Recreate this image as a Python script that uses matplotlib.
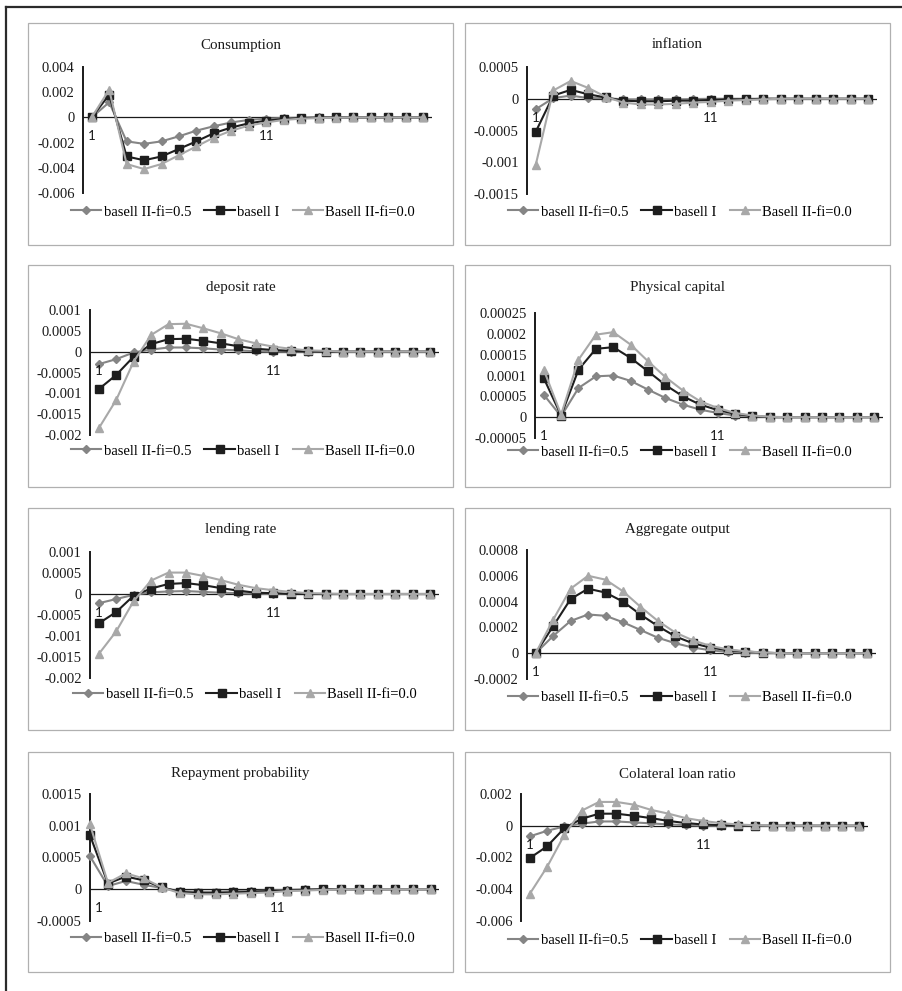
import matplotlib
matplotlib.use("Agg")
import matplotlib.pyplot as plt
from matplotlib.patches import Rectangle
from matplotlib.lines import Line2D

# ---------------- data ----------------
periods = list(range(1, 21))
series_names = ["basell II-fi=0.5", "basell I", "Basell II-fi=0.0"]
xtick_labels = ["1", "11"]

consumption_fi05 = [0, 0.0012, -0.0019, -0.0021, -0.0019, -0.0015, -0.00105, -0.0007, -0.0004, -0.0002,
                    -0.0001, -0.00005, -0.00002, 0, 0, 0, 0, 0, 0, 0]
consumption_b1 = [0, 0.0018, -0.0031, -0.0034, -0.0031, -0.0025, -0.0019, -0.00125, -0.0008, -0.00047,
                  -0.00026, -0.00013, -0.00005, -0.00002, 0, 0, 0, 0, 0, 0]
consumption_fi00 = [0, 0.0022, -0.0037, -0.0041, -0.0037, -0.003, -0.0023, -0.0016, -0.00105, -0.00065,
                    -0.0004, -0.0002, -0.0001, -0.00005, -0.00002, 0, 0, 0, 0, 0]

inflation_fi05 = [-0.000165, 0.00001, 0.00005, 0.00001, 0.00001, -0.00001, -0.00001, -0.00001, -0.00001, -0.000005,
                  0, 0, 0, 0, 0, 0, 0, 0, 0, 0]
inflation_b1 = [-0.00052, 0.00005, 0.00014, 0.00007, 0.00002, -0.00003, -0.00004, -0.00004, -0.00003, -0.00003,
                -0.00002, -0.00001, -0.00001, 0, 0, 0, 0, 0, 0, 0]
inflation_fi00 = [-0.00104, 0.00013, 0.00028, 0.00017, 0.00003, -0.00006, -0.00009, -0.00009, -0.00008, -0.00006,
                  -0.00005, -0.00003, -0.00002, -0.00001, 0, 0, 0, 0, 0, 0]

deposit_fi05 = [-0.0003, -0.00018, -0.00002, 0.00005, 0.0001, 0.0001, 0.00008, 0.00005, 0.00003, 0.00001,
                0, 0, 0, 0, 0, 0, 0, 0, 0, 0]
deposit_b1 = [-0.0009, -0.00056, -0.00012, 0.00018, 0.0003, 0.00031, 0.00026, 0.0002, 0.00013, 0.00007,
              0.00004, 0.00002, 0.00001, 0, 0, 0, 0, 0, 0, 0]
deposit_fi00 = [-0.00184, -0.00116, -0.00024, 0.0004, 0.00066, 0.00067, 0.00056, 0.00044, 0.0003, 0.0002,
                0.00012, 0.00007, 0.00003, 0.00002, 0, 0, 0, 0, 0, 0]

capital_fi05 = [0.000054, 0.000002, 0.00007, 0.000098, 0.0001, 0.000087, 0.000066, 0.000046, 0.00003, 0.000018,
                0.00001, 0.000004, 0.000002, 0, 0, 0, 0, 0, 0, 0]
capital_b1 = [0.000094, 0.000004, 0.000114, 0.000164, 0.000168, 0.000142, 0.00011, 0.000077, 0.00005, 0.00003,
              0.000017, 0.000008, 0.000003, 0, 0, 0, 0, 0, 0, 0]
capital_fi00 = [0.000114, 0.000006, 0.000138, 0.000198, 0.000204, 0.000174, 0.000134, 0.000096, 0.000064, 0.000038,
                0.000022, 0.00001, 0.000004, 0.000001, 0, 0, 0, 0, 0, 0]

lending_fi05 = [-0.00022, -0.00012, -0.00002, 0.00004, 0.00006, 0.00007, 0.00005, 0.00003, 0.00002, 0.00001,
                0, 0, 0, 0, 0, 0, 0, 0, 0, 0]
lending_b1 = [-0.0007, -0.00043, -0.00004, 0.00013, 0.00024, 0.00026, 0.00021, 0.00014, 0.00008, 0.00003,
              0.00002, 0, 0, 0, 0, 0, 0, 0, 0, 0]
lending_fi00 = [-0.00143, -0.00089, -0.00017, 0.00032, 0.00051, 0.00051, 0.00043, 0.00033, 0.00022, 0.00014,
                0.00009, 0.00005, 0.00002, 0.00001, 0, 0, 0, 0, 0, 0]

output_fi05 = [0, 0.000134, 0.00025, 0.0003, 0.00029, 0.00024, 0.00018, 0.00012, 0.000077, 0.000044,
               0.000023, 0.00001, 0.000005, 0, 0, 0, 0, 0, 0, 0]
output_b1 = [0, 0.00021, 0.00042, 0.0005, 0.00047, 0.0004, 0.0003, 0.00021, 0.00013, 0.000077,
             0.000044, 0.000023, 0.000013, 0.000005, 0, 0, 0, 0, 0, 0]
output_fi00 = [0, 0.00026, 0.0005, 0.0006, 0.00057, 0.00048, 0.00036, 0.00025, 0.00016, 0.0001,
               0.000057, 0.00003, 0.000015, 0.000006, 0, 0, 0, 0, 0, 0]

repay_fi05 = [0.00052, 0.00005, 0.00013, 0.00007, 0.00002, -0.00003, -0.00004, -0.00004, -0.00003, -0.00003,
              -0.00002, -0.00001, 0, 0, 0, 0, 0, 0, 0, 0]
repay_b1 = [0.00085, 0.00009, 0.0002, 0.00014, 0.00003, -0.00004, -0.00006, -0.00006, -0.00005, -0.00004,
            -0.00003, -0.00002, -0.00001, 0, 0, 0, 0, 0, 0, 0]
repay_fi00 = [0.00102, 0.0001, 0.00025, 0.00017, 0.00003, -0.00006, -0.00008, -0.00008, -0.00007, -0.00006,
              -0.00005, -0.00003, -0.00002, -0.00001, 0, 0, 0, 0, 0, 0]

collat_fi05 = [-0.00067, -0.00032, -0.00004, 0.00013, 0.00027, 0.00027, 0.00021, 0.00015, 0.00008, 0.00004,
               0.00001, 0, 0, 0, 0, 0, 0, 0, 0, 0]
collat_b1 = [-0.00204, -0.0013, -0.00015, 0.00044, 0.00076, 0.00076, 0.00063, 0.00048, 0.0003, 0.00017,
             0.00008, 0.00004, 0.00001, 0, 0, 0, 0, 0, 0, 0]
collat_fi00 = [-0.0043, -0.0026, -0.00057, 0.00095, 0.0015, 0.0015, 0.00133, 0.001, 0.00076, 0.00048,
               0.0003, 0.00017, 0.00008, 0.00003, 0, 0, 0, 0, 0, 0]

titles = ["Consumption", "inflation", "deposit rate", "Physical capital",
          "lending rate", "Aggregate output", "Repayment probability", "Colateral loan ratio"]

yticks_consumption = ["0.004", "0.002", "0", "-0.002", "-0.004", "-0.006"]
yticks_inflation = ["0.0005", "0", "-0.0005", "-0.001", "-0.0015"]
yticks_deposit = ["0.001", "0.0005", "0", "-0.0005", "-0.001", "-0.0015", "-0.002"]
yticks_capital = ["0.00025", "0.0002", "0.00015", "0.0001", "0.00005", "0", "-0.00005"]
yticks_lending = ["0.001", "0.0005", "0", "-0.0005", "-0.001", "-0.0015", "-0.002"]
yticks_output = ["0.0008", "0.0006", "0.0004", "0.0002", "0", "-0.0002"]
yticks_repay = ["0.0015", "0.001", "0.0005", "0", "-0.0005"]
yticks_collat = ["0.002", "0", "-0.002", "-0.004", "-0.006"]

# ---------------- layout (pixels) ----------------
W, H = 903, 991
fig = plt.figure(figsize=(W / 100, H / 100), dpi=100)
fig.patch.set_facecolor("white")

SERIF = ["Liberation Serif", "DejaVu Serif"]
FS = 10.5

colors = ["#858585", "#1e1e1e", "#a8a8a8"]
markers = ["D", "s", "^"]
msizes = [4.4, 5.5, 6.3]

panels = [
    # title, data, yticks, box, plot area (x0, ytop, x1, ybottom), xlim, label shift, legend center
    (titles[0], (consumption_fi05, consumption_b1, consumption_fi00), yticks_consumption,
     (28, 23, 453, 245), (83, 67, 432, 193), (0.5, 20.5), 0.0, (243, 212)),
    (titles[1], (inflation_fi05, inflation_b1, inflation_fi00), yticks_inflation,
     (465, 23, 890, 245), (527, 67, 877, 194), (0.5, 20.5), 0.0, (680, 212)),
    (titles[2], (deposit_fi05, deposit_b1, deposit_fi00), yticks_deposit,
     (28, 265, 453, 487), (90, 310, 439, 435), (0.5, 20.5), 0.0, (243, 451)),
    (titles[3], (capital_fi05, capital_b1, capital_fi00), yticks_capital,
     (465, 265, 890, 487), (535, 313, 883, 438), (0.5, 20.5), 0.0, (680, 452)),
    (titles[4], (lending_fi05, lending_b1, lending_fi00), yticks_lending,
     (28, 508, 453, 730), (90, 552, 439, 678), (0.5, 20.5), 0.0, (245, 694)),
    (titles[5], (output_fi05, output_b1, output_fi00), yticks_output,
     (465, 508, 890, 730), (527, 550, 876, 679), (0.5, 20.5), 0.0, (680, 697)),
    (titles[6], (repay_fi05, repay_b1, repay_fi00), yticks_repay,
     (28, 752, 453, 972), (90, 794, 439, 921), (1.0, 20.46), 0.47, (243, 938)),
    (titles[7], (collat_fi05, collat_b1, collat_fi00), yticks_collat,
     (465, 752, 890, 972), (521, 794, 868, 921), (0.5, 20.5), 0.0, (680, 940)),
]

# outer frame (top and left lines)
fig.add_artist(Line2D([6.5 / W, 6.5 / W], [0, 1 - 6.5 / H], transform=fig.transFigure,
                      color="#2b2b2b", lw=1.6))
fig.add_artist(Line2D([6.5 / W, 1], [1 - 6.5 / H, 1 - 6.5 / H], transform=fig.transFigure,
                      color="#2b2b2b", lw=1.6))

for title, data, ytl, box, area, xlim, shift, legc in panels:
    bx0, by0, bx1, by1 = box
    fig.add_artist(Rectangle((bx0 / W, 1 - by1 / H), (bx1 - bx0) / W, (by1 - by0) / H,
                             transform=fig.transFigure, fill=False,
                             edgecolor="#b0b0b0", lw=0.9))
    fig.text((bx0 + bx1) / 2 / W, 1 - (by0 + 22) / H, title, ha="center", va="center",
             family=SERIF, fontsize=FS + 0.3, color="#1a1a1a")

    x0, yt, x1, yb = area
    ax = fig.add_axes([x0 / W, 1 - yb / H, (x1 - x0) / W, (yb - yt) / H])
    ax.set_facecolor("none")
    tvals = [float(t) for t in ytl]
    ax.set_ylim(min(tvals), max(tvals))
    ax.set_xlim(*xlim)
    ax.set_yticks(tvals)
    ax.set_yticklabels(ytl, family=SERIF, fontsize=FS, color="#1a1a1a")
    ax.tick_params(axis="y", length=0, pad=6)
    ax.set_xticks([])
    for s in ("top", "right", "bottom"):
        ax.spines[s].set_visible(False)
    ax.spines["left"].set_color("#1a1a1a")
    ax.spines["left"].set_linewidth(1.4)
    ax.axhline(0, color="#1a1a1a", lw=0.9, zorder=1)

    handles = []
    for vals, name, c, m, ms in zip(data, series_names, colors, markers, msizes):
        h, = ax.plot(periods, vals, color=c, lw=1.5, marker=m, markersize=ms,
                     markerfacecolor=c, markeredgecolor=c, label=name, zorder=3,
                     clip_on=False)
        handles.append(h)

    for lab in xtick_labels:
        ax.annotate(lab, xy=(float(lab) + shift, 0), xytext=(0, -19), textcoords="offset pixels",
                    ha="center", va="center", family=["Lato", "DejaVu Sans"], fontsize=9.5,
                    color="#1a1a1a", annotation_clip=False)

    ax.legend(handles=handles, loc="center", ncol=3,
              bbox_to_anchor=(legc[0] / W, 1 - legc[1] / H), bbox_transform=fig.transFigure,
              frameon=False, prop={"family": SERIF, "size": FS},
              handlelength=2.1, handletextpad=0.15, columnspacing=0.9, borderpad=0,
              borderaxespad=0)

fig.savefig("out.png", dpi=100, facecolor="white")
